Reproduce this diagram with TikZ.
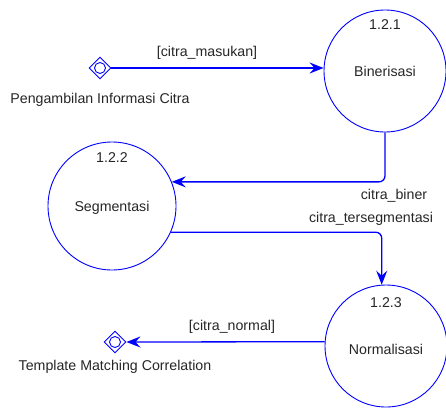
\documentclass[tikz,border=0pt]{standalone}
\usepackage{fontspec}
\setmainfont{Liberation Sans}
\usetikzlibrary{
	arrows.meta,
	shapes,
	calc
}

\tikzset{
	proc/.style={circle, draw=blue, line width=0.9pt, minimum size=122pt, inner sep=0pt},
	store/.style={diamond, draw=blue, line width=0.9pt, minimum width=22pt, minimum height=22pt, inner sep=0pt},
	hole/.style={circle, draw=blue, line width=0.9pt, minimum size=11pt, inner sep=0pt},
	flow/.style={draw=blue, line width=1.3pt, rounded corners=6pt, -{Stealth[length=14pt, width=11pt, inset=5pt]}},
	txt/.style={text=black!85, font=\fontsize{14.2}{17}\selectfont, inner sep=1pt}
}

\begin{document}
\begin{tikzpicture}[x=1pt, y=-1pt]
	\useasboundingbox (0,0) rectangle (446,407);
	% processes
	\node[proc] (bin) at (385,71) {};
	\node[proc, minimum size=128pt] (seg) at (112,206) {};
	\node[proc] (norm) at (386,346) {};
	\node[txt] (binname) at (bin) {Binerisasi};
	\node[txt] (segname) at ([yshift=-2pt]seg.center) {Segmentasi};
	\node[txt] (normname) at ([yshift=-3pt]norm.center) {Normalisasi};
	\node[txt] (binnum) at ([yshift=-15pt]bin.north) {1.2.1};
	\node[txt] (segnum) at ([yshift=-16pt]seg.north) {1.2.2};
	\node[txt] (normnum) at ([yshift=-18pt]norm.north) {1.2.3};
	% stores
	\node[store] (src) at (100,68) {};
	\node[hole] (srchole) at (src) {};
	\node[txt] (srcname) at (100,100) {Pengambilan Informasi Citra};
	\node[store] (dst) at (115,342) {};
	\node[hole] (dsthole) at (dst) {};
	\node[txt] (dstname) at (115,367) {Template Matching Correlation};
	% flows
	\draw[flow] (src.east) -- (src.east -| bin.west);
	\draw[flow] (bin.south) |- (seg.22);
	\draw[flow] (seg.-24) -| (norm.94);
	\draw[flow] (norm.176) -- (dst.east);
	% flow labels
	\node[txt] (lmasukan) at (207,53) {[citra\_masukan]};
	\node[txt] (lbiner) at (394,196) {citra\_biner};
	\node[txt] (lseg) at (371,219) {citra\_tersegmentasi};
	\node[txt] (lnormal) at (232,327) {[citra\_normal]};
\end{tikzpicture}
\end{document}
